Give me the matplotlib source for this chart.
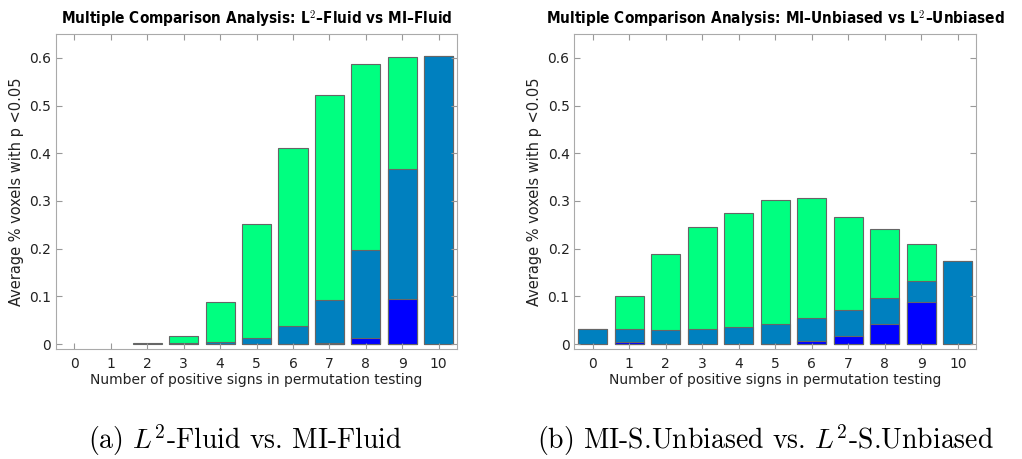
import numpy as np
import matplotlib
matplotlib.use("Agg")
import matplotlib.pyplot as plt

plt.rcParams['mathtext.fontset'] = 'cm'

signs = np.arange(11)

# Fluid comparison: total / mid / strong fractions per sign count
fluid_total = [0.0, 0.0, 0.002, 0.016, 0.088, 0.252, 0.412, 0.523, 0.586, 0.601, 0.604]
fluid_mid = [0.0, 0.0, 0.0, 0.002, 0.005, 0.013, 0.038, 0.093, 0.198, 0.368, 0.604]
fluid_strong = [0.0, 0.0, 0.0, 0.0, 0.0, 0.0, 0.001, 0.002, 0.013, 0.095, 0.0]

# Unbiased comparison
unb_total = [0.032, 0.100, 0.189, 0.245, 0.274, 0.302, 0.306, 0.266, 0.241, 0.210, 0.175]
unb_mid = [0.032, 0.031, 0.030, 0.031, 0.035, 0.043, 0.055, 0.072, 0.096, 0.133, 0.175]
unb_strong = [0.0, 0.004, 0.001, 0.0, 0.0, 0.001, 0.007, 0.017, 0.042, 0.089, 0.0]

titles = [r"Multiple Comparison Analysis: L$^\mathbf{2}$–Fluid vs MI–Fluid",
          r"Multiple Comparison Analysis: MI–Unbiased vs L$^\mathbf{2}$–Unbiased"]
captions = [r"(a) $L^2$-Fluid vs. MI-Fluid",
            r"(b) MI-S.Unbiased vs. $L^2$-S.Unbiased"]
caption_x = [0.240, 0.749]

cmap = plt.get_cmap('winter')
colors = [cmap(1.0), cmap(0.5), cmap(0.0)]

fig = plt.figure(figsize=(10.22, 4.59), dpi=100)
axes = [fig.add_axes([0.055, 0.240, 0.392, 0.686]),
        fig.add_axes([0.562, 0.240, 0.393, 0.686])]

data = [(fluid_total, fluid_mid, fluid_strong), (unb_total, unb_mid, unb_strong)]

for ax, series, title, cap, cx in zip(axes, data, titles, captions, caption_x):
    for vals, c in zip(series, colors):
        # empty bins get no bar at all
        h = np.where(np.array(vals) > 0, vals, np.nan)
        ax.bar(signs, h, width=0.8, color=c, edgecolor='#666666', linewidth=0.8)
    ax.set_xlim(-0.5, 10.5)
    ax.set_ylim(-0.01, 0.65)
    ax.set_xticks(signs)
    ax.set_yticks(np.arange(0, 0.61, 0.1))
    ax.set_yticklabels(['0', '0.1', '0.2', '0.3', '0.4', '0.5', '0.6'])
    ax.tick_params(direction='in', top=True, right=True, labelsize=10,
                   color='#999999', length=4, labelcolor='#222222')
    ax.tick_params(axis='x', pad=6)
    for sp in ax.spines.values():
        sp.set_color('#aaaaaa')
    ax.set_xlabel("Number of positive signs in permutation testing",
                  fontsize=10, labelpad=1, color='#222222')
    ax.set_ylabel("Average % voxels with p <0.05", fontsize=10.5, color='#222222')
    ax.set_title(title, fontsize=11, fontweight='bold', fontstretch='condensed', pad=7)
    fig.text(cx, 0.022, cap, family='cmr10', fontsize=20, ha='center', va='baseline')

fig.savefig('out.png', dpi=100)
